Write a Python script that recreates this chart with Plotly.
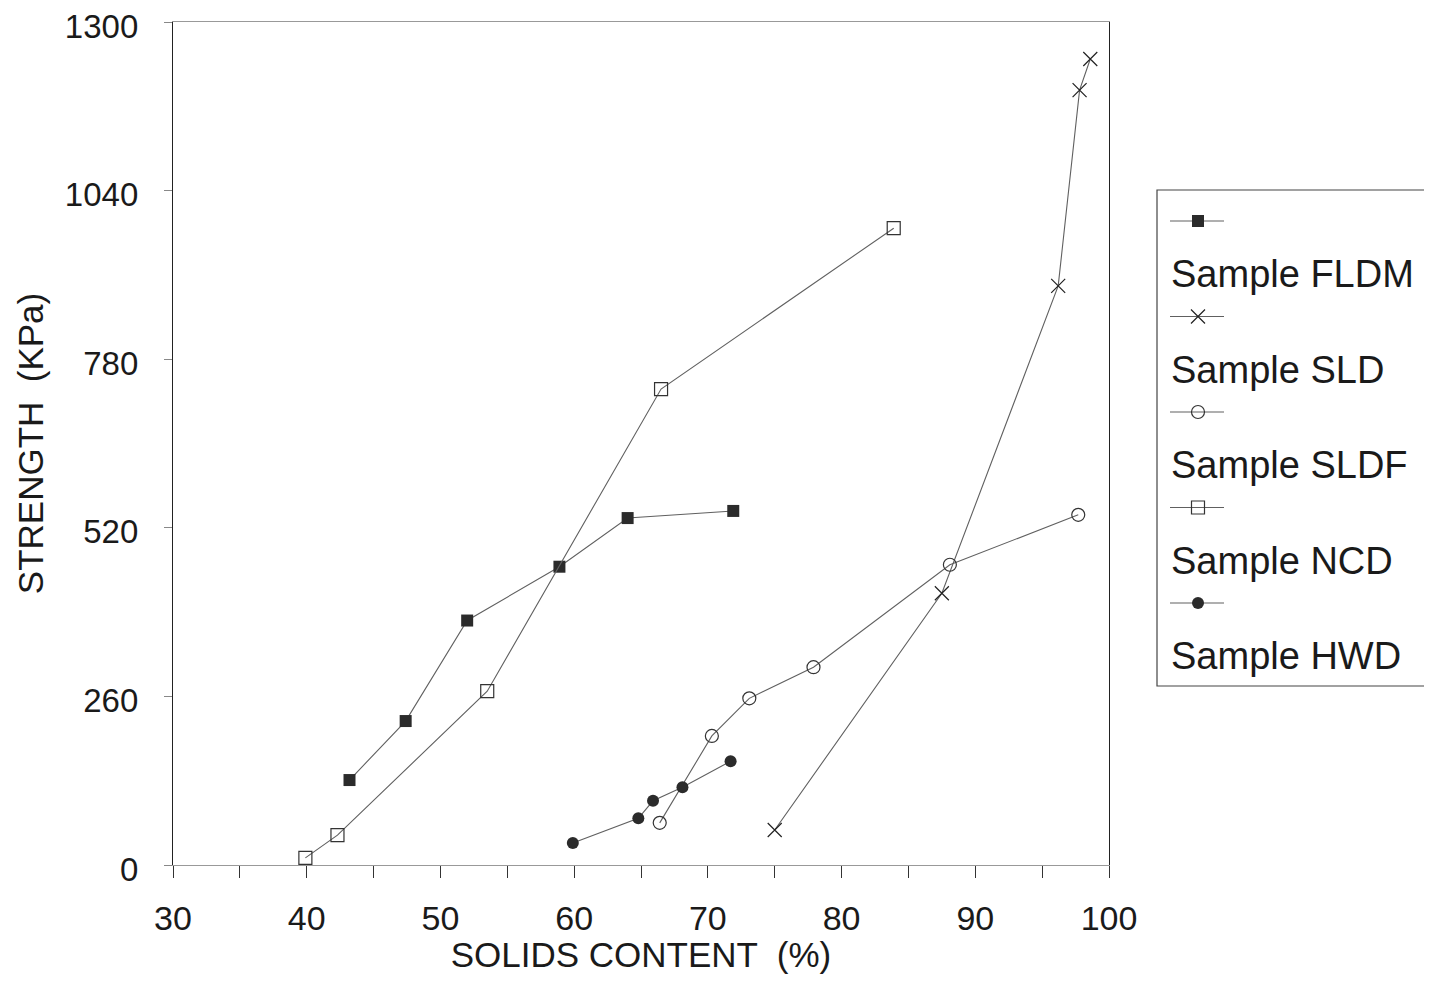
import plotly.graph_objects as go

# ---------------- data ----------------
series_names = ["Sample FLDM", "Sample SLD", "Sample SLDF", "Sample NCD", "Sample HWD"]

fldm_x = [43.2, 47.4, 52.0, 58.9, 64.0, 71.9]
fldm_y = [131, 222, 377, 460, 535, 546]

sld_x = [75.0, 87.5, 96.2, 97.8, 98.6]
sld_y = [54, 419, 893, 1195, 1243]

sldf_x = [66.4, 70.3, 73.1, 77.9, 88.1, 97.7]
sldf_y = [65, 199, 257, 305, 463, 540]

ncd_x = [39.9, 42.3, 53.5, 66.5, 83.9]
ncd_y = [11, 46, 268, 734, 982]

hwd_x = [59.9, 64.8, 65.9, 68.1, 71.7]
hwd_y = [34, 72, 99, 120, 160]

x_ticks = [30, 40, 50, 60, 70, 80, 90, 100]
y_ticks = [0, 260, 520, 780, 1040, 1300]

# ---------------- styles ----------------
FONT = "Liberation Sans, Arial, sans-serif"
INK = "#1a1a1a"
LINE = "#606060"
styles = [
    dict(symbol="square", size=12, color="#2b2b2b", line=dict(width=0)),
    dict(symbol="x-thin-open", size=14, color="#222222", line=dict(width=1.2, color="#222222")),
    dict(symbol="circle-open", size=13, color="#333333", line=dict(width=1.2, color="#333333")),
    dict(symbol="square-open", size=13, color="#333333", line=dict(width=1.2, color="#333333")),
    dict(symbol="circle", size=12, color="#2b2b2b", line=dict(width=0)),
]
xs = [fldm_x, sld_x, sldf_x, ncd_x, hwd_x]
ys = [fldm_y, sld_y, sldf_y, ncd_y, hwd_y]

# page has an 8px body margin; size the figure so the page fits the window exactly
OFF = 8
W, H = 1432 - 2 * OFF, 982 - 2 * OFF
# plot area in window pixels
PL, PR, PT, PB = 173, 1109, 22, 865
ML, MT = PL - OFF, PT - OFF
MB = H - (PB - OFF)
paper_w = W - ML

fig = go.Figure()
for name, x, y, st in zip(series_names, xs, ys, styles):
    fig.add_trace(go.Scatter(
        x=x, y=y, mode="lines+markers", name=name,
        line=dict(color=LINE, width=1.1),
        marker=st, showlegend=False, xaxis="x", yaxis="y"))

# ---------------- custom legend (stacked layout), window-pixel coordinates ----------------
LX0 = 1150
sym_y0, txt_y0, step = 221, 274, 95.5
for i, (name, st) in enumerate(zip(series_names, styles)):
    sy = sym_y0 + i * step
    fig.add_trace(go.Scatter(x=[1170, 1224], y=[sy, sy], mode="lines",
                             line=dict(color=LINE, width=1.1),
                             showlegend=False, hoverinfo="skip", xaxis="x2", yaxis="y2"))
    fig.add_trace(go.Scatter(x=[1198], y=[sy], mode="markers", marker=st,
                             showlegend=False, hoverinfo="skip", xaxis="x2", yaxis="y2"))
    fig.add_annotation(x=1169, y=txt_y0 + i * step, xref="x2", yref="y2",
                       text=name, showarrow=False, xanchor="left", yanchor="middle",
                       font=dict(family=FONT, size=38, color=INK))

fig.add_shape(type="rect", xref="x2", yref="y2", x0=1157, x1=1460, y0=190, y1=686,
              line=dict(color="#444444", width=1.2), fillcolor="rgba(0,0,0,0)")

fig.update_layout(
    width=W, height=H, autosize=False,
    margin=dict(l=ML, r=0, t=MT, b=MB, pad=0),
    paper_bgcolor="white", plot_bgcolor="white",
    font=dict(family=FONT, color=INK),
    showlegend=False,
    xaxis=dict(
        domain=[0, (PR - PL) / paper_w],
        range=[30, 100], tickvals=x_ticks,
        ticks="outside", ticklen=12, tickcolor="#333333", tickwidth=1,
        minor=dict(dtick=5, tick0=30, ticks="outside", ticklen=12, tickcolor="#333333"),
        ticklabelstandoff=11, ticklabeloverflow="allow",
        tickfont=dict(size=34, color=INK),
        showgrid=False, zeroline=False,
        showline=True, linecolor="#999999", linewidth=1, mirror=True,
        title=dict(text="SOLIDS CONTENT  (%)", font=dict(size=35, color=INK), standoff=0),
        automargin=False,
    ),
    yaxis=dict(
        range=[0, 1300], tickvals=y_ticks,
        ticks="outside", ticklen=8, tickcolor="#888888", tickwidth=1,
        ticklabelstandoff=19, ticklabeloverflow="allow", ticklabelshift=4,
        tickfont=dict(size=33, color=INK),
        showgrid=False, zeroline=False,
        showline=True, linecolor="#222222", linewidth=1.3, mirror=True,
        title=dict(text="STRENGTH  (KPa)", font=dict(size=35, color=INK), standoff=10),
        automargin=False,
    ),
    xaxis2=dict(domain=[(LX0 - OFF - ML) / paper_w, 1], range=[LX0, 1432 - OFF], visible=False,
                anchor="y2", fixedrange=True),
    yaxis2=dict(domain=[0, 1], range=[PB, PT], visible=False, anchor="x2", fixedrange=True),
)

fig.write_html("out.html")
